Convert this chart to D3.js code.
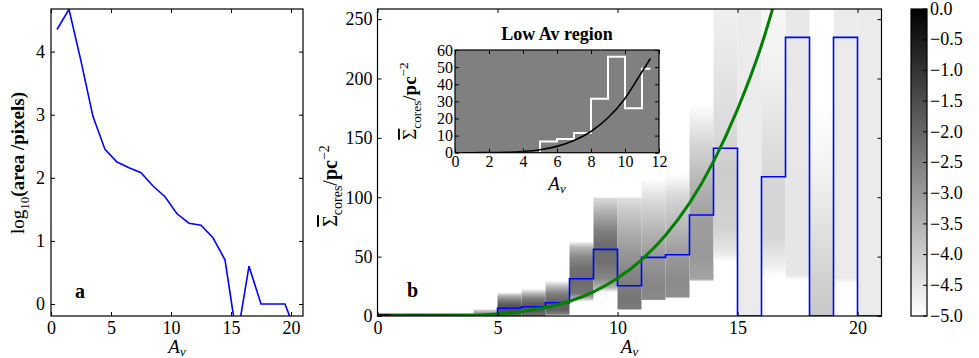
<!DOCTYPE html>
<html><head><meta charset="utf-8">
<script src="https://cdn.jsdelivr.net/npm/d3@7"></script>
<style>body{margin:0;background:#fff}svg{display:block}</style>
</head><body>
<svg id="chart" width="979" height="358"></svg>
<script>
// ---------------- data ----------------
// panel a
const areaAv = [0.5,1.5,2.5,3.5,4.5,5.5,6.5,7.5,8.5,9.5,10.5,11.5,12.5,13.5,14.5,15.5,16.5,17.5,18.5,19.5,20.5];
const areaLog = [4.35,4.67,3.85,2.97,2.45,2.25,2.16,2.08,1.87,1.70,1.43,1.28,1.25,1.05,0.70,-0.55,0.60,0.00,0.00,0.00,-0.50];
const areaXTicks = [0,5,10,15,20];
const areaYTicks = [0,1,2,3,4];

// panel b
const binEdges = [0,1,2,3,4,5,6,7,8,9,10,11,12,13,14,15,16,17,18,19,20,21];
const coreSigma = [0,0,0,0,0,6.5,7.8,11.2,31.4,56.1,25.5,49.4,51.6,85,141.2,0,117.3,234.6,0,234.6,0];
const fitAv = [0.5,1,2,3,4,5,6,7,8,9,10,11,12,13,14,15,16,16.6];
const fitSigma = [0,0.005,0.04,0.2,0.68,1.7,3.7,7.1,12.4,20.4,31.7,47.3,68,95,130,174,228,268];
const sigmaTicks = [0,50,100,150,200,250];
const avTicks = [0,5,10,15,20];
// per-bin column of log10 fraction: [Sigma, log10 value] stops
const densityStops = [
  [[0,-0.4],[2,-0.4]],
  [[0,-0.4],[2,-0.4]],
  [[0,-0.4],[2,-0.4]],
  [[0,-0.4],[2,-0.4]],
  [[0,-2.5],[2,-2.8],[5,-4.2],[6,-5]],
  [[0,-2.0],[4,-1.6],[9,-1.7],[13,-2.4],[17,-3.5],[20,-5]],
  [[0,-2.3],[4,-1.8],[10,-1.8],[15,-2.5],[19,-3.6],[23,-5]],
  [[1,-2.6],[5,-1.9],[12,-1.9],[19,-2.5],[25,-3.7],[30,-5]],
  [[12,-5],[15,-3.5],[19,-2.3],[30,-2.1],[40,-2.2],[50,-2.7],[58,-3.6],[63,-5]],
  [[20,-5],[24,-3.5],[32,-2.6],[45,-2.2],[60,-2.1],[72,-2.5],[85,-3.3],[99.5,-4.3],[100,-5]],
  [[5,-5],[6,-2.4],[15,-2.3],[30,-2.5],[50,-2.9],[70,-3.4],[90,-4.0],[99.5,-4.4],[100,-5]],
  [[13,-5],[14,-2.7],[25,-2.6],[45,-2.9],[70,-3.5],[95,-4.2],[116,-5]],
  [[15,-5],[16,-2.8],[30,-2.7],[50,-3.0],[75,-3.6],[100,-4.2],[120,-5]],
  [[29,-5],[31,-3.2],[50,-3.0],[80,-3.1],[110,-3.5],[145,-4.2],[179,-5]],
  [[45,-5],[55,-4.5],[75,-4.1],[120,-4.0],[160,-4.3],[210,-4.5],[258.5,-4.7]],
  [[0,-4.6],[258.5,-4.6]],
  [[33,-5],[45,-4.6],[65,-4.2],[110,-4.2],[150,-4.4],[200,-4.7],[258.5,-4.85]],
  [[30,-5],[35,-4.5],[258.5,-4.55]],
  [[0,-3.9],[30,-4.1],[70,-4.4],[120,-4.75],[180,-5]],
  [[27,-5],[32,-4.6],[258.5,-4.6]],
  [[0,-4.6],[258.5,-4.6]]
];

// inset: low Av region
const lowEdges = [5,6,7,8,9,10,11,11.5];
const lowSigma = [6.5,8,11.5,31.5,56,26,49,49];
const lowFitAv = [0.5,1,2,3,4,5,6,7,8,9,10,11,11.5];
const lowFitSigma = [0,0.005,0.04,0.2,0.68,1.7,3.7,7.1,12.4,20.4,31.7,47.3,55];
const lowXTicks = [0,2,4,6,8,10,12];
const lowYTicks = [0,10,20,30,40,50,60];

// colorbar
const cbTicks = [0,-0.5,-1,-1.5,-2,-2.5,-3,-3.5,-4,-4.5,-5];

// ---------------- drawing ----------------
const FONT = "'Liberation Serif','DejaVu Serif',serif";
const svg = d3.select("#chart");
const defs = svg.append("defs");
const gray = d3.scaleLinear().domain([-5,0]).range(["#ffffff","#000000"]).clamp(true);

function frame(g, x, y, xt, yt, o) {
  const [x0,x1] = x.range(), [y0,y1] = y.range();
  const ax = [
    [d3.axisBottom(x).tickValues(xt).tickSize(-o.ts).tickPadding(o.xpad).tickFormat(d3.format("d")), `translate(0,${y0})`],
    [d3.axisTop(x).tickValues(xt).tickSize(-o.ts).tickFormat(""), `translate(0,${y1})`],
    [d3.axisLeft(y).tickValues(yt).tickSize(-o.ts).tickPadding(o.ypad).tickFormat(d3.format("d")), `translate(${x0},0)`],
    [d3.axisRight(y).tickValues(yt).tickSize(-o.ts).tickFormat(""), `translate(${x1},0)`]
  ];
  ax.forEach(([a,t]) => {
    const ag = g.append("g").attr("transform", t).call(a);
    ag.select(".domain").remove();
    ag.attr("font-family", FONT).attr("font-size", o.fs);
    ag.selectAll("line").attr("stroke", "#000").attr("stroke-width", 1);
    ag.selectAll("text").attr("fill", "#000");
  });
  g.append("rect").attr("x", x0).attr("y", y1).attr("width", x1-x0).attr("height", y0-y1)
    .attr("fill", "none").attr("stroke", "#000").attr("stroke-width", 1.2);
}
function avLabel(g, x, y) {
  g.append("text").attr("x",x).attr("y",y).attr("text-anchor","middle").attr("font-family",FONT)
    .attr("font-size",19).call(t=>{
      t.append("tspan").attr("font-style","italic").text("A");
      t.append("tspan").attr("font-style","italic").attr("font-size",13).attr("dy",3).text("v");
    });
}
function sigmaLabel(sel, fs) {
  sel.append("tspan").style("text-decoration","overline").text("\u03A3");
  sel.append("tspan").attr("font-size",fs*0.7).attr("dy",fs*0.25).text("cores");
  sel.append("tspan").attr("dy",-fs*0.25).text("/");
  sel.append("tspan").attr("font-weight","bold").text("pc");
  sel.append("tspan").attr("font-size",fs*0.7).attr("dy",-fs*0.4).text("\u22122");
}

// ---- panel a ----
const xA = d3.scaleLinear().domain([0,21]).range([51,303]);
const yA = d3.scaleLinear().domain([-0.19,4.675]).range([316,9]);
defs.append("clipPath").attr("id","clipA").append("rect")
  .attr("x",51).attr("y",9).attr("width",252).attr("height",307);
const gA = svg.append("g");
gA.append("path").attr("clip-path","url(#clipA)")
  .datum(areaAv.map((v,i)=>[v, areaLog[i]]))
  .attr("fill","none").attr("stroke","#0000ff").attr("stroke-width",1.6)
  .attr("d", d3.line().x(d=>xA(d[0])).y(d=>yA(d[1])));
frame(gA, xA, yA, areaXTicks, areaYTicks, {ts:4, xpad:5, ypad:6, fs:18});
gA.append("text").attr("x",75).attr("y",298).attr("font-family",FONT).attr("font-size",20)
  .attr("font-weight","bold").text("a");
avLabel(gA, 177, 353);
gA.append("text").attr("transform","translate(24,163) rotate(-90)").attr("text-anchor","middle")
  .attr("font-family",FONT).attr("font-size",19).call(t=>{
    t.append("tspan").text("log");
    t.append("tspan").attr("font-size",13).attr("dy",5).text("10");
    t.append("tspan").attr("dy",-5).attr("font-weight","bold").text("(area /pixels)");
  });

// ---- panel b ----
const xB = d3.scaleLinear().domain([0,21]).range([377.5,881.5]);
const yB = d3.scaleLinear().domain([0,258.5]).range([316,9]);
defs.append("clipPath").attr("id","clipB").append("rect")
  .attr("x",377.5).attr("y",9).attr("width",504).attr("height",307);
const gB = svg.append("g");
const cols = gB.append("g").attr("clip-path","url(#clipB)");
densityStops.forEach((stops,i) => {
  const s0 = stops[0][0], s1 = stops[stops.length-1][0];
  const gid = "col"+i;
  const lg = defs.append("linearGradient").attr("id",gid).attr("gradientUnits","userSpaceOnUse")
    .attr("x1",0).attr("x2",0).attr("y1",yB(s0)).attr("y2",yB(s1));
  stops.forEach(s => lg.append("stop").attr("offset",(s[0]-s0)/(s1-s0)).attr("stop-color",gray(s[1])));
  cols.append("rect").attr("x",xB(binEdges[i])).attr("width",xB(binEdges[i+1])-xB(binEdges[i]))
    .attr("y",yB(s1)).attr("height",yB(s0)-yB(s1)).attr("fill",`url(#${gid})`);
});
const stepPts = coreSigma.map((v,i)=>[binEdges[i], v]).concat([[binEdges[binEdges.length-1],0]]);
gB.append("path").attr("clip-path","url(#clipB)").datum(stepPts)
  .attr("fill","none").attr("stroke","#0000ff").attr("stroke-width",1.6)
  .attr("d", d3.line().curve(d3.curveStepAfter).x(d=>xB(d[0])).y(d=>yB(d[1])));
gB.append("path").attr("clip-path","url(#clipB)").datum(fitAv.map((v,i)=>[v,fitSigma[i]]))
  .attr("fill","none").attr("stroke","#008000").attr("stroke-width",3)
  .attr("d", d3.line().curve(d3.curveMonotoneX).x(d=>xB(d[0])).y(d=>yB(d[1])));
frame(gB, xB, yB, avTicks, sigmaTicks, {ts:4, xpad:5, ypad:5, fs:18});
gB.append("text").attr("x",407).attr("y",297).attr("font-family",FONT).attr("font-size",20)
  .attr("font-weight","bold").text("b");
avLabel(gB, 629.5, 353);
gB.append("text").attr("transform","translate(337,186) rotate(-90)").attr("text-anchor","middle")
  .attr("font-family",FONT).attr("font-size",20).call(t=>sigmaLabel(t,20));

// ---- inset ----
const xI = d3.scaleLinear().domain([0,12]).range([455,659]);
const yI = d3.scaleLinear().domain([0,60]).range([152.7,50]);
defs.append("clipPath").attr("id","clipI").append("rect")
  .attr("x",455).attr("y",50).attr("width",204).attr("height",102.7);
const gI = svg.append("g");
gI.append("rect").attr("x",455).attr("y",50).attr("width",204).attr("height",102.7).attr("fill","#808080");
const lowPts = [[lowEdges[0],0]].concat(lowEdges.map((e,i)=>[e, lowSigma[i]]));
gI.append("path").attr("clip-path","url(#clipI)").datum(lowPts)
  .attr("fill","none").attr("stroke","#ffffff").attr("stroke-width",2)
  .attr("d", d3.line().curve(d3.curveStepAfter).x(d=>xI(d[0])).y(d=>yI(d[1])));
gI.append("path").attr("clip-path","url(#clipI)").datum(lowFitAv.map((v,i)=>[v,lowFitSigma[i]]))
  .attr("fill","none").attr("stroke","#000").attr("stroke-width",1.6)
  .attr("d", d3.line().curve(d3.curveMonotoneX).x(d=>xI(d[0])).y(d=>yI(d[1])));
frame(gI, xI, yI, lowXTicks, lowYTicks, {ts:4, xpad:3, ypad:2, fs:16});
gI.append("text").attr("x",557).attr("y",40).attr("text-anchor","middle").attr("font-family",FONT)
  .attr("font-size",18).attr("font-weight","bold").text("Low Av region");
avLabel(gI, 557, 190);
gI.append("text").attr("transform","translate(416,101) rotate(-90)").attr("text-anchor","middle")
  .attr("font-family",FONT).attr("font-size",19).call(t=>sigmaLabel(t,19));

// ---- colorbar ----
const yC = d3.scaleLinear().domain([-5,0]).range([316,9]);
const cg = defs.append("linearGradient").attr("id","cbar").attr("gradientUnits","userSpaceOnUse")
  .attr("x1",0).attr("x2",0).attr("y1",yC(-5)).attr("y2",yC(0));
cbTicks.slice().reverse().forEach(v => cg.append("stop").attr("offset",(v+5)/5).attr("stop-color",gray(v)));
const gC = svg.append("g");
gC.append("rect").attr("x",911).attr("y",yC(0)).attr("width",16).attr("height",yC(-5)-yC(0))
  .attr("fill","url(#cbar)").attr("stroke","#000").attr("stroke-width",1.2);
gC.selectAll("line.cb").data(cbTicks).join("line").attr("class","cb")
  .attr("x1",923).attr("x2",927).attr("y1",d=>yC(d)).attr("y2",d=>yC(d)).attr("stroke","#000");
gC.selectAll("text.cb").data(cbTicks).join("text").attr("class","cb")
  .attr("x",930).attr("y",d=>yC(d)).attr("dy","0.32em").attr("font-family",FONT).attr("font-size",18)
  .text(d => (d===0 ? "" : "\u2212") + Math.abs(d).toFixed(1));
</script>
</body></html>
